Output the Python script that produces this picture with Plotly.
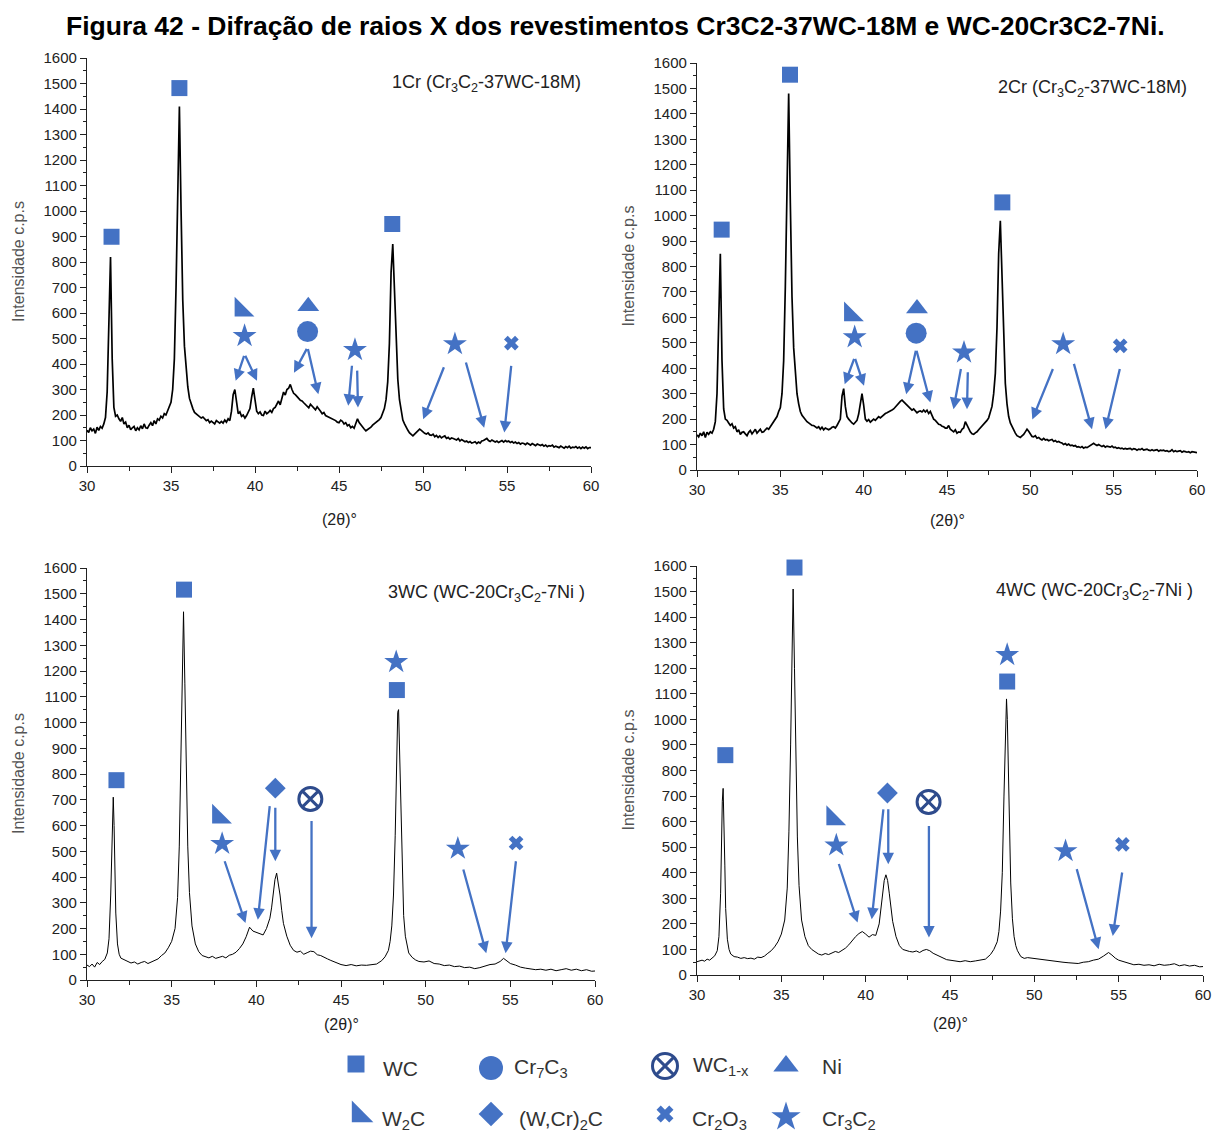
import plotly.graph_objects as go

# ---------------- data ----------------
# 2theta sampling grid (0.1 deg) for the Cr3C2-37WC-18M coatings (1Cr, 2Cr)
x_cr = [round(30 + 0.1 * i, 1) for i in range(301)]

y_1cr = [140,132,150,138,145,128,152,140,155,148,   # 30.x
         165,190,290,560,820,420,230,195,200,185,   # 31.x
         175,190,165,172,150,160,142,150,155,138,   # 32.x
         150,142,158,146,165,150,148,160,170,158,   # 33.x
         178,165,185,180,195,188,205,200,215,235,   # 34.x
         250,300,420,700,1100,1410,1000,650,470,370,  # 35.x
         310,265,240,225,210,205,200,195,188,192,   # 36.x
         185,178,182,170,176,172,165,178,172,168,   # 37.x
         175,168,180,172,185,178,215,280,300,240,   # 38.x
         205,212,195,200,188,198,210,225,270,305,   # 39.x
         260,215,205,212,200,198,215,205,210,218,   # 40.x
         210,225,230,242,255,240,262,290,278,300,   # 41.x
         305,320,300,285,280,270,265,258,255,248,   # 42.x
         240,235,228,242,235,228,220,232,225,215,   # 43.x
         205,210,198,195,190,188,185,180,178,172,   # 44.x
         170,180,175,165,170,158,162,150,155,148,   # 45.x
         165,185,170,160,150,145,138,142,145,152,   # 46.x
         160,165,170,175,182,190,205,225,260,330,   # 47.x
         480,760,870,700,480,340,260,210,180,165,   # 48.x
         150,140,130,125,118,125,132,138,145,140,   # 49.x
         132,128,125,130,122,120,125,115,120,112,   # 50.x
         118,110,115,118,108,112,105,110,108,104,   # 51.x
         102,108,98,104,100,95,98,92,96,90,         # 52.x
         92,95,88,94,90,98,100,105,108,100,         # 53.x
         96,102,98,94,98,92,96,100,94,100,          # 54.x
         95,98,92,96,90,94,88,92,86,90,             # 55.x
         88,84,90,86,82,88,84,80,86,82,             # 56.x
         80,84,78,82,76,80,78,82,74,78,             # 57.x
         76,72,78,74,70,76,72,78,70,74,             # 58.x
         72,76,70,74,68,74,70,75,68,72,             # 59.x
         72]                                        # 60.0

y_2cr = [138,130,145,135,150,128,148,140,150,145,   # 30.x
         160,190,300,620,850,430,240,200,195,185,   # 31.x
         175,182,165,170,150,158,140,148,150,142,   # 32.x
         135,148,155,142,150,160,145,152,160,148,   # 33.x
         150,158,165,160,170,175,190,200,210,230,   # 34.x
         245,300,430,720,1150,1480,1050,680,480,370,  # 35.x
         300,260,230,215,205,198,190,185,180,175,   # 36.x
         175,168,165,170,160,168,158,165,162,158,   # 37.x
         162,168,170,165,175,185,200,290,320,250,   # 38.x
         210,200,190,185,180,188,195,220,265,300,   # 39.x
         255,200,192,198,188,196,200,195,205,210,   # 40.x
         205,212,218,222,225,228,230,236,240,248,   # 41.x
         255,262,270,275,268,260,252,245,238,235,   # 42.x
         240,232,225,230,232,228,236,228,235,222,   # 43.x
         230,215,200,195,185,180,178,172,170,165,   # 44.x
         165,175,160,155,150,158,145,150,148,160,   # 45.x
         165,190,175,160,150,142,140,146,150,158,   # 46.x
         165,172,180,185,195,205,225,250,300,380,   # 47.x
         560,850,980,760,500,340,260,210,185,170,   # 48.x
         155,145,135,130,128,134,140,150,160,152,   # 49.x
         140,132,130,135,125,128,122,118,124,118,   # 50.x
         120,115,118,120,112,116,110,112,108,106,   # 51.x
         100,104,98,102,96,98,94,96,90,92,          # 52.x
         88,92,86,90,88,92,98,102,105,100,          # 53.x
         96,100,95,92,96,90,94,92,90,94,            # 54.x
         88,90,85,88,84,86,82,85,82,84,             # 55.x
         85,80,84,82,78,82,80,84,78,80,             # 56.x
         82,78,76,80,76,78,80,74,78,76,             # 57.x
         78,74,76,72,74,80,72,76,72,74,             # 58.x
         76,70,74,72,70,72,68,72,70,68,             # 59.x
         68]                                        # 60.0

# 2theta grid for the WC-20Cr3C2-7Ni coatings (3WC, 4WC)
x_wc = [30.0,30.15,30.3,30.45,30.6,30.75,30.9,31.05,31.2,
        31.3,31.4,31.45,31.5,31.55,31.6,31.65,31.7,31.8,31.9,32.0,
        32.2,32.4,32.6,32.8,33.0,33.2,33.4,33.6,33.8,34.0,34.2,34.4,34.6,34.8,
        35.0,35.2,35.35,35.45,35.55,35.62,35.7,35.78,35.85,35.95,36.05,36.2,36.4,36.6,36.8,
        37.0,37.2,37.4,37.6,37.8,38.0,38.2,38.4,38.6,38.8,39.0,39.2,39.4,39.6,39.8,40.0,40.2,40.4,40.6,40.8,
        40.9,41.0,41.1,41.2,41.3,41.4,41.5,41.6,41.8,42.0,42.2,42.4,42.6,42.8,43.0,43.2,43.4,43.6,43.8,44.0,44.2,44.4,44.6,44.8,
        45.0,45.3,45.6,45.9,46.2,46.5,46.8,47.1,47.4,47.6,47.8,
        47.9,48.0,48.1,48.2,48.3,48.35,48.4,48.45,48.5,48.6,48.7,48.8,48.9,49.0,49.2,49.4,
        49.6,49.9,50.2,50.5,50.8,51.1,51.4,51.7,52.0,52.3,52.6,52.9,53.2,53.5,53.8,54.1,54.4,54.6,54.8,55.0,55.3,
        55.6,55.9,56.2,56.5,56.8,57.1,57.4,57.7,58.0,58.3,58.6,58.9,59.2,59.5,59.8,60.0]

y_3wc = [58,52,62,50,68,60,72,80,105,
         160,330,500,660,710,600,420,260,140,100,85,
         78,72,66,70,62,68,72,64,70,76,82,95,105,125,
         150,200,320,520,850,1200,1430,1150,820,520,340,210,140,110,95,
         90,86,92,84,88,92,86,96,100,108,122,140,168,205,190,185,182,175,200,240,
         280,330,390,415,380,330,270,220,170,135,115,108,112,100,106,112,110,98,95,90,82,76,70,64,
         60,56,60,55,58,57,60,62,75,90,115,
         150,210,330,560,900,1040,1050,920,700,420,250,170,130,105,88,78,
         72,70,74,64,62,56,58,52,54,48,50,44,48,55,60,62,72,84,74,64,58,
         50,46,44,40,42,38,42,36,40,44,38,42,36,40,34,35]

y_4wc = [52,55,58,54,62,58,68,75,95,
         150,320,520,680,730,620,430,260,140,100,82,
         72,70,65,68,64,66,62,70,68,74,85,95,110,130,
         160,215,340,560,900,1260,1510,1200,850,540,350,215,150,115,100,
         90,82,78,84,80,86,92,88,96,105,118,135,150,162,170,160,148,158,155,200,
         250,310,370,392,370,320,260,210,150,115,100,95,92,90,94,88,96,100,95,85,78,72,66,60,
         58,54,52,56,52,55,58,62,80,100,130,
         170,250,400,700,1040,1080,1000,850,620,360,220,150,115,95,72,65,
         68,65,62,60,58,55,52,50,48,46,45,50,52,58,62,74,88,78,66,58,52,
         45,40,42,38,40,36,42,38,40,44,36,40,35,38,32,33]

assert len(x_cr) == len(y_1cr) == len(y_2cr)
assert len(x_wc) == len(y_3wc) == len(y_4wc)

# phase identification symbols (phase, 2theta, intensity)
p1_phase = ['WC','WC','WC','W2C','Cr3C2','Ni','Cr7C3','Cr3C2','Cr3C2','Cr2O3']
p1_sx = [31.46,35.5,48.17,39.18,39.38,43.17,43.13,45.95,51.9,55.26]
p1_sy = [899,1482,949,612,510,626,527,455,478,482]

p2_phase = ['WC','WC','WC','W2C','Cr3C2','Ni','Cr7C3','Cr3C2','Cr3C2','Cr2O3']
p2_sx = [31.48,35.58,48.32,39.22,39.46,43.2,43.15,46.02,51.97,55.39]
p2_sy = [945,1554,1052,611,522,635,538,462,495,488]

p3_phase = ['WC','WC','Cr3C2','WC','W2C','Cr3C2','WCr2C','WC1x','Cr3C2','Cr2O3']
p3_sx = [31.74,35.73,48.26,48.3,37.78,37.98,41.12,43.19,51.9,55.34]
p3_sy = [776,1516,1235,1126,633,529,745,703,510,532]

p4_phase = ['WC','WC','Cr3C2','WC','W2C','Cr3C2','WCr2C','WC1x','Cr3C2','Cr2O3']
p4_sx = [31.68,35.78,48.39,48.39,38.06,38.26,41.29,43.73,51.85,55.22]
p4_sy = [860,1594,1252,1148,612,507,712,677,485,511]

# arrows: tail (x, y) -> head (x, y)
p1_arrows = [(39.38,438,38.85,334),(39.38,438,40.12,334),(43.13,465,42.32,366),(43.13,465,43.77,281),
             (45.78,399,45.55,236),(46.08,380,46.13,229),(51.28,393,50.01,183),(52.53,412,53.64,150),
             (55.26,399,54.84,131)]
p2_arrows = [(39.46,443,38.86,337),(39.46,443,40.02,331),(43.15,475,42.55,298),(43.15,475,44.0,265),
             (45.85,403,45.39,239),(46.25,390,46.2,239),(51.39,403,50.12,199),(52.59,423,53.70,160),
             (55.39,403,54.51,160)]
p3_arrows = [(38.1,467,39.36,221),(40.8,681,40.09,234),(41.12,675,41.12,461),(43.26,623,43.26,162),
             (52.2,435,53.58,104),(55.34,467,54.72,104)]
p4_arrows = [(38.38,440,39.52,205),(41.06,654,40.36,218),(41.34,654,41.34,433),(43.75,589,43.75,147),
             (52.49,420,53.81,101),(55.22,407,54.65,153)]

panel_labels = ['1Cr (Cr<sub>3</sub>C<sub>2</sub>-37WC-18M)', '2Cr (Cr<sub>3</sub>C<sub>2</sub>-37WC-18M)',
                '3WC (WC-20Cr<sub>3</sub>C<sub>2</sub>-7Ni )', '4WC (WC-20Cr<sub>3</sub>C<sub>2</sub>-7Ni )']

legend_order = ['WC','Cr7C3','WC1x','Ni','W2C','WCr2C','Cr2O3','Cr3C2']
legend_text = {'WC':'WC','Cr7C3':'Cr<sub>7</sub>C<sub>3</sub>','WC1x':'WC<sub>1-x</sub>','Ni':'Ni',
               'W2C':'W<sub>2</sub>C','WCr2C':'(W,Cr)<sub>2</sub>C','Cr2O3':'Cr<sub>2</sub>O<sub>3</sub>',
               'Cr3C2':'Cr<sub>3</sub>C<sub>2</sub>'}

# ---------------- style ----------------
W, H = 1214, 1133
BLUE = '#4472C4'
NAVY = '#2E4B8C'
FONT = 'Liberation Sans, Arial, sans-serif'

SYM = {
    'WC':    dict(symbol='square', size=16, color=BLUE),
    'Cr7C3': dict(symbol='circle', size=21, color=BLUE),
    'WC1x':  dict(symbol='circle-x-open', size=23, color=NAVY, line=dict(width=3, color=NAVY)),
    'Ni':    dict(symbol='triangle-up', size=19, color=BLUE),
    'W2C':   dict(symbol='triangle-sw', size=22, color=BLUE),
    'WCr2C': dict(symbol='diamond', size=16, color=BLUE),
    'Cr2O3': dict(symbol='x', size=13, color=BLUE),
    'Cr3C2': dict(symbol='star', size=18, color=BLUE),
}

def px_x(p): return p / W
def px_y(p): return 1 - p / H

panels = [
    dict(x=x_cr, y=y_1cr, ph=p1_phase, sx=p1_sx, sy=p1_sy, arr=p1_arrows, box=(87, 591, 58, 466), lw=1.7, tt=53),
    dict(x=x_cr, y=y_2cr, ph=p2_phase, sx=p2_sx, sy=p2_sy, arr=p2_arrows, box=(697, 1197, 63, 470), lw=1.7, tt=50),
    dict(x=x_wc, y=y_3wc, ph=p3_phase, sx=p3_sx, sy=p3_sy, arr=p3_arrows, box=(87, 595, 568, 980), lw=1.0, tt=44),
    dict(x=x_wc, y=y_4wc, ph=p4_phase, sx=p4_sx, sy=p4_sy, arr=p4_arrows, box=(697, 1203, 566, 975), lw=1.0, tt=48),
]

fig = go.Figure()
annotations = []
layout_axes = {}

for i, p in enumerate(panels, start=1):
    xa = 'x' if i == 1 else f'x{i}'
    ya = 'y' if i == 1 else f'y{i}'
    l, r, t, b = p['box']
    fig.add_trace(go.Scatter(x=p['x'], y=p['y'], mode='lines', xaxis=xa, yaxis=ya,
                             line=dict(color='black', width=p['lw']), showlegend=False, hoverinfo='skip'))
    # phase symbols
    for ph in SYM:
        xs = [sx for sx, q in zip(p['sx'], p['ph']) if q == ph]
        ys = [sy for sy, q in zip(p['sy'], p['ph']) if q == ph]
        if not xs:
            continue
        s = SYM[ph]
        fig.add_trace(go.Scatter(x=xs, y=ys, mode='markers', xaxis=xa, yaxis=ya, showlegend=False,
                                 hoverinfo='skip', cliponaxis=False,
                                 marker=dict(symbol=s['symbol'], size=s['size'], color=s['color'],
                                             line=s.get('line', dict(width=0)))))
    for (tx, ty, hx, hy) in p['arr']:
        annotations.append(dict(x=hx, y=hy, ax=tx, ay=ty, xref=xa, yref=ya, axref=xa, ayref=ya,
                                text='', showarrow=True, arrowhead=2, arrowsize=1.0, arrowwidth=2.3,
                                arrowcolor=BLUE, standoff=0, startstandoff=0))
    axkey = 'xaxis' if i == 1 else f'xaxis{i}'
    aykey = 'yaxis' if i == 1 else f'yaxis{i}'
    common = dict(showline=True, linecolor='#222', linewidth=1.3, ticks='outside', tickcolor='#222',
                  tickwidth=1.2, showgrid=False, zeroline=False, automargin=False,
                  tickfont=dict(family=FONT, size=15, color='#222'))
    layout_axes[axkey] = dict(domain=[px_x(l), px_x(r)], anchor=ya, range=[30, 60], tick0=30, dtick=5,
                              ticklen=6, minor=dict(dtick=2.5, ticks='outside', ticklen=4, tickcolor='#222',
                                                    showgrid=False), **common)
    layout_axes[aykey] = dict(domain=[px_y(b), px_y(t)], anchor=xa, range=[0, 1600], tick0=0, dtick=100,
                              ticklen=6, minor=dict(dtick=50, ticks='outside', ticklen=3, tickcolor='#222',
                                                    showgrid=False), **common)
    # axis titles and panel label
    annotations.append(dict(x=l - 69, y=(t + b) / 2, xref='x5', yref='y5', text='Intensidade c.p.s',
                            textangle=-90, showarrow=False, font=dict(family=FONT, size=16, color='#555'),
                            xanchor='center', yanchor='middle'))
    annotations.append(dict(x=(l + r) / 2, y=b + p['tt'], xref='x5', yref='y5', text='(2θ)°', showarrow=False,
                            font=dict(family=FONT, size=16, color='#222'), xanchor='center', yanchor='middle'))
    annotations.append(dict(x=r - 8, y=t + 25, xref='x5', yref='y5', text=panel_labels[i - 1], showarrow=False,
                            font=dict(family=FONT, size=18, color='#222'), xanchor='right', yanchor='middle'))

# overlay pixel axis for title and legend
layout_axes['xaxis5'] = dict(domain=[0, 1], range=[0, W], visible=False, anchor='y5', fixedrange=True)
layout_axes['yaxis5'] = dict(domain=[0, 1], range=[H, 0], visible=False, anchor='x5', fixedrange=True)

# legend grid (pixel positions)
leg_mx = [356, 491, 665, 786, 359, 491, 665, 786]
leg_my = [1064, 1068, 1066, 1066, 1115, 1114, 1114, 1117]
leg_tx = [381, 512, 691, 820, 380, 517, 690, 820]
leg_ty = [1068, 1068, 1066, 1066, 1120, 1120, 1120, 1120]
leg_size = {'WC': 17, 'Cr7C3': 24, 'WC1x': 25, 'Ni': 22, 'W2C': 24, 'WCr2C': 19, 'Cr2O3': 15, 'Cr3C2': 22}
for k, ph in enumerate(legend_order):
    s = SYM[ph]
    fig.add_trace(go.Scatter(x=[leg_mx[k]], y=[leg_my[k]], mode='markers', xaxis='x5', yaxis='y5',
                             showlegend=False, hoverinfo='skip', cliponaxis=False,
                             marker=dict(symbol=s['symbol'], size=leg_size[ph], color=s['color'],
                                         line=s.get('line', dict(width=0)))))
    annotations.append(dict(x=leg_tx[k], y=leg_ty[k], xref='x5', yref='y5', text=legend_text[ph],
                            showarrow=False, xanchor='left', yanchor='middle',
                            font=dict(family=FONT, size=21, color='#333')))

annotations.append(dict(x=615, y=26, xref='x5', yref='y5',
                        text='<b>Figura 42 - Difração de raios X dos revestimentos Cr3C2-37WC-18M e WC-20Cr3C2-7Ni.</b>',
                        showarrow=False, xanchor='center', yanchor='middle',
                        font=dict(family=FONT, size=26.5, color='black')))

fig.update_layout(width=W, height=H, margin=dict(l=0, r=0, t=0, b=0), paper_bgcolor='white',
                  plot_bgcolor='rgba(0,0,0,0)', showlegend=False, annotations=annotations, **layout_axes)

fig.write_html('out.html', config={'displayModeBar': False},
               post_script="document.body.style.margin='0';document.body.style.overflow='hidden';")
